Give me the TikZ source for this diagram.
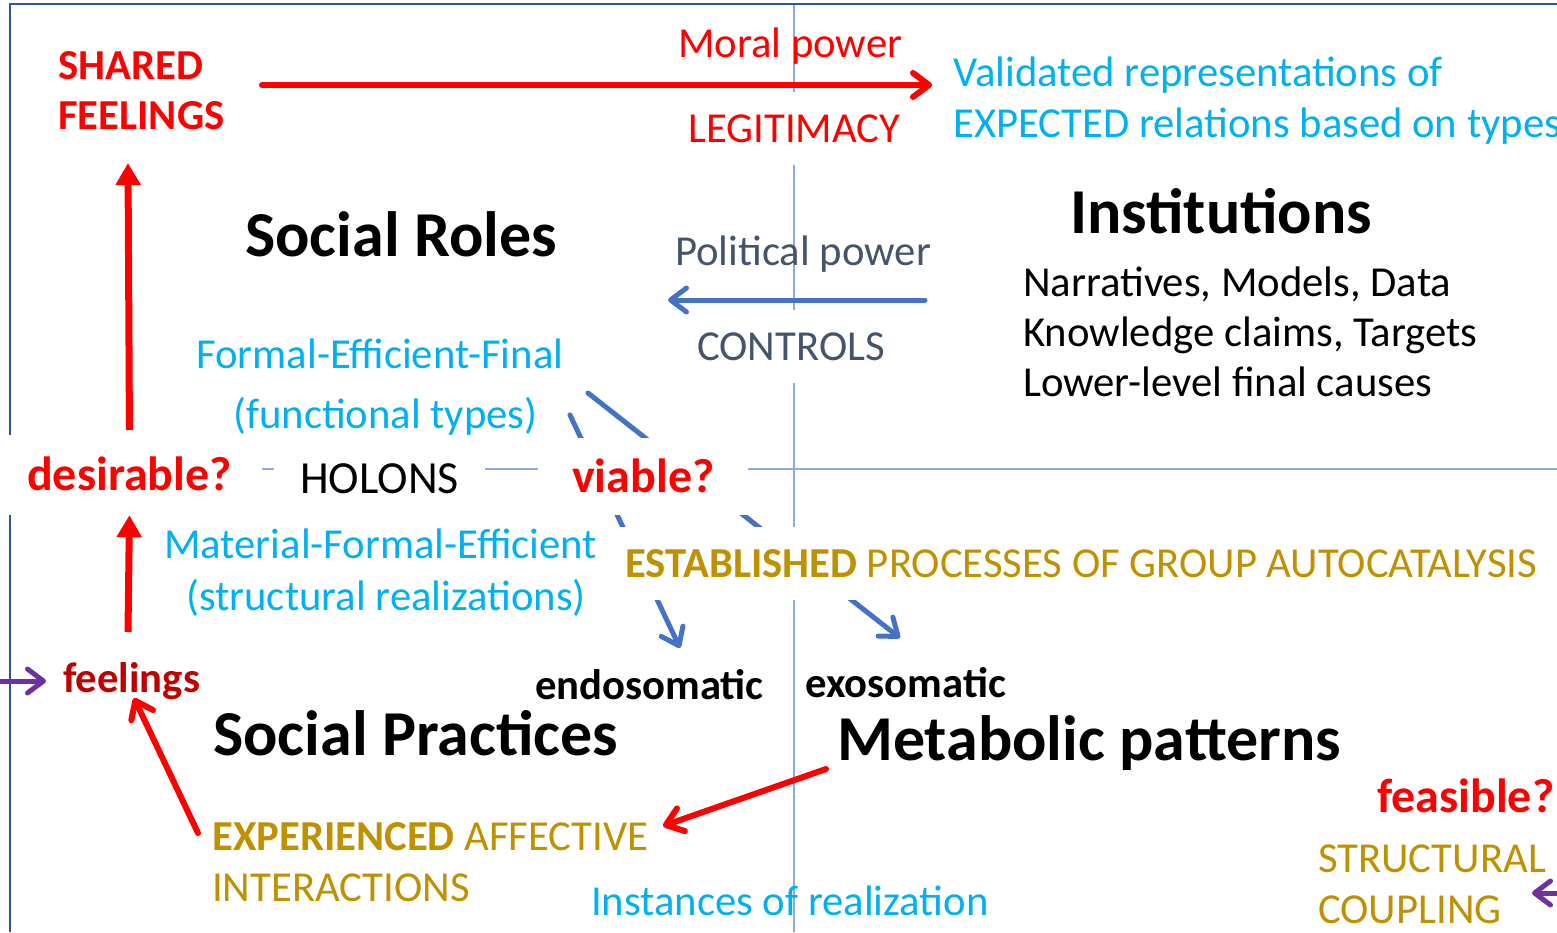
\documentclass[tikz,border=0pt]{standalone}
\usepackage{fontspec}
\setmainfont{Carlito}
\usetikzlibrary{arrows.meta,backgrounds}
\definecolor{alarmred}{HTML}{FF0000}
\definecolor{darkred}{HTML}{C00000}
\definecolor{skycyan}{HTML}{00B0F0}
\definecolor{slate}{HTML}{44546A}
\definecolor{arrowblue}{HTML}{4472C4}
\definecolor{ochre}{HTML}{BF9000}
\definecolor{plum}{HTML}{7030A0}
\definecolor{gridblue}{HTML}{8FAADC}
\definecolor{frameblue}{HTML}{2F5597}
\newcommand{\fsz}[1]{\fontsize{#1}{#1}\selectfont}
\tikzset{
  lbl/.style={anchor=base west,inner sep=0pt},
  mask/.style={fill=white,inner ysep=0pt},
  plain/.style={lbl,font=\fsz{42.7}},
  strong/.style={lbl,font=\bfseries\fsz{42.7}},
  headline/.style={lbl,font=\bfseries\fsz{64}},
  query/.style={lbl,font=\bfseries\fsz{48},text=alarmred},
  gridline/.style={gridblue,line width=2pt},
  framing/.style={frameblue,line width=2pt},
  chevron/.style={line width=#1,line cap=round,-{Straight Barb[length=16pt,width=24pt,round]}},
  redarrow/.style={chevron=6pt,alarmred},
  bluearrow/.style={chevron=5pt,arrowblue},
  purplearrow/.style={chevron=5pt,plum},
  uparrow/.style={alarmred,line width=7pt,-{Triangle[length=22pt,width=24pt]}}
}

\begin{document}
\begin{tikzpicture}[x=1pt,y=-1pt]
  \useasboundingbox (0,0) rectangle (1557,932);
  % upper band
  \node[strong,text=alarmred] (shared1) at (58,79) {SHARED};
  \node[strong,text=alarmred] (shared2) at (58,129) {FEELINGS};
  \node[plain,text=alarmred] (moral) at (678,57) {Moral power};
  \node[plain,mask,inner xsep=8pt,text height=50pt,text depth=23pt,text=alarmred] (legit) at (680,142) {LEGITIMACY};
  \node[plain,text=skycyan] (valid1) at (953,86) {Validated representations of};
  \node[plain,text=skycyan] (valid2) at (953,137) {EXPECTED relations based on types};
  \node[headline] (inst) at (1070,233) {Institutions};
  \node[plain] (narr1) at (1023,296) {Narratives, Models, Data};
  \node[plain] (narr2) at (1023,346) {Knowledge claims, Targets};
  \node[plain] (narr3) at (1023,396) {Lower-level final causes};
  \node[headline] (roles) at (245,256) {Social Roles};
  \node[plain,text=slate] (polit) at (675,265) {Political power};
  \node[plain,mask,inner xsep=8pt,text height=50pt,text depth=23pt,text=slate] (ctrl) at (689,360) {CONTROLS};
  \node[plain,text=skycyan] (func1) at (196,368) {Formal-Efficient-Final};
  \node[plain,text=skycyan] (func2) at (233,428) {(functional types)};
  % middle line
  \node[query,mask,inner xsep=30pt,text height=55pt,text depth=25pt] (desire) at (-3,490) {desirable?};
  \node[lbl,mask,inner xsep=26pt,text height=32pt,text depth=12pt,font=\fsz{46}] (holons) at (274,493) {HOLONS};
  \node[query,mask,inner xsep=34pt,text height=54pt,text depth=23pt] (viable) at (538,492) {viable?};
  % lower band
  \node[plain,text=skycyan] (struct1) at (164,558) {Material-Formal-Efficient};
  \node[plain,text=skycyan] (struct2) at (186,610) {(structural realizations)};
  \node[plain,mask,inner xsep=7pt,text height=50pt,text depth=23pt,text=ochre] (estab) at (618,577) {{\bfseries ESTABLISHED} PROCESSES OF GROUP AUTOCATALYSIS};
  \node[strong,text=darkred] (feel) at (63,692) {feelings};
  \node[strong] (endo) at (535,699) {endosomatic};
  \node[strong] (exo) at (805,697) {exosomatic};
  \node[headline] (practices) at (213,755) {Social Practices};
  \node[headline] (metab) at (837,760) {Metabolic patterns};
  \node[query] (feasible) at (1377,812) {feasible?};
  \node[plain,text=ochre] (exp1) at (212,850) {{\bfseries EXPERIENCED} AFFECTIVE};
  \node[plain,text=ochre] (exp2) at (212,901) {INTERACTIONS};
  \node[plain,text=skycyan] (inst2) at (591,915) {Instances of realization};
  \node[plain,text=ochre] (coup1) at (1318,872) {STRUCTURAL};
  \node[plain,text=ochre] (coup2) at (1318,923) {COUPLING};
  % arrow ends
  \coordinate (moralL) at (262,85);
  \coordinate (moralR) at (932,85);
  \coordinate (ctrlR) at (925,300);
  \coordinate (ctrlL) at (668,300);
  \coordinate (downA) at (588,393);
  \coordinate (downAend) at (900,638);
  \coordinate (downB) at (570,415);
  \coordinate (downBend) at (680,648);
  \coordinate (sharedfoot) at (128,163);
  \coordinate (feeltop) at (128,632);
  \coordinate (metabfoot) at (826,769);
  \coordinate (affecthead) at (663,826);
  \coordinate (expfoot) at (198,833);
  \coordinate (feelfoot) at (134,698);
  \coordinate (inL) at (0,681);
  \coordinate (inLend) at (46,681);
  \coordinate (inR) at (1557,893);
  \coordinate (inRend) at (1532,893);
  \begin{pgfonlayer}{background}
    \draw[gridline] (10,469) -- (1557,469);
    \draw[gridline] (794,4) -- (794,932);
    \draw[framing] (1557,4) -- (10,4) -- (10,932);
    \draw[redarrow] (moralL) -- (moralR);
    \draw[bluearrow] (ctrlR) -- (ctrlL);
    \draw[bluearrow] (downA) -- (downAend);
    \draw[bluearrow] (downB) -- (downBend);
    \draw[uparrow] ([yshift=5pt]desire.north) -- (sharedfoot);
    \draw[uparrow] (feeltop) -- (desire.south);
    \draw[redarrow] (metabfoot) -- (affecthead);
    \draw[redarrow] (expfoot) -- (feelfoot);
    \draw[purplearrow] (inL) -- (inLend);
    \draw[purplearrow] (inR) -- (inRend);
  \end{pgfonlayer}
\end{tikzpicture}
\end{document}
